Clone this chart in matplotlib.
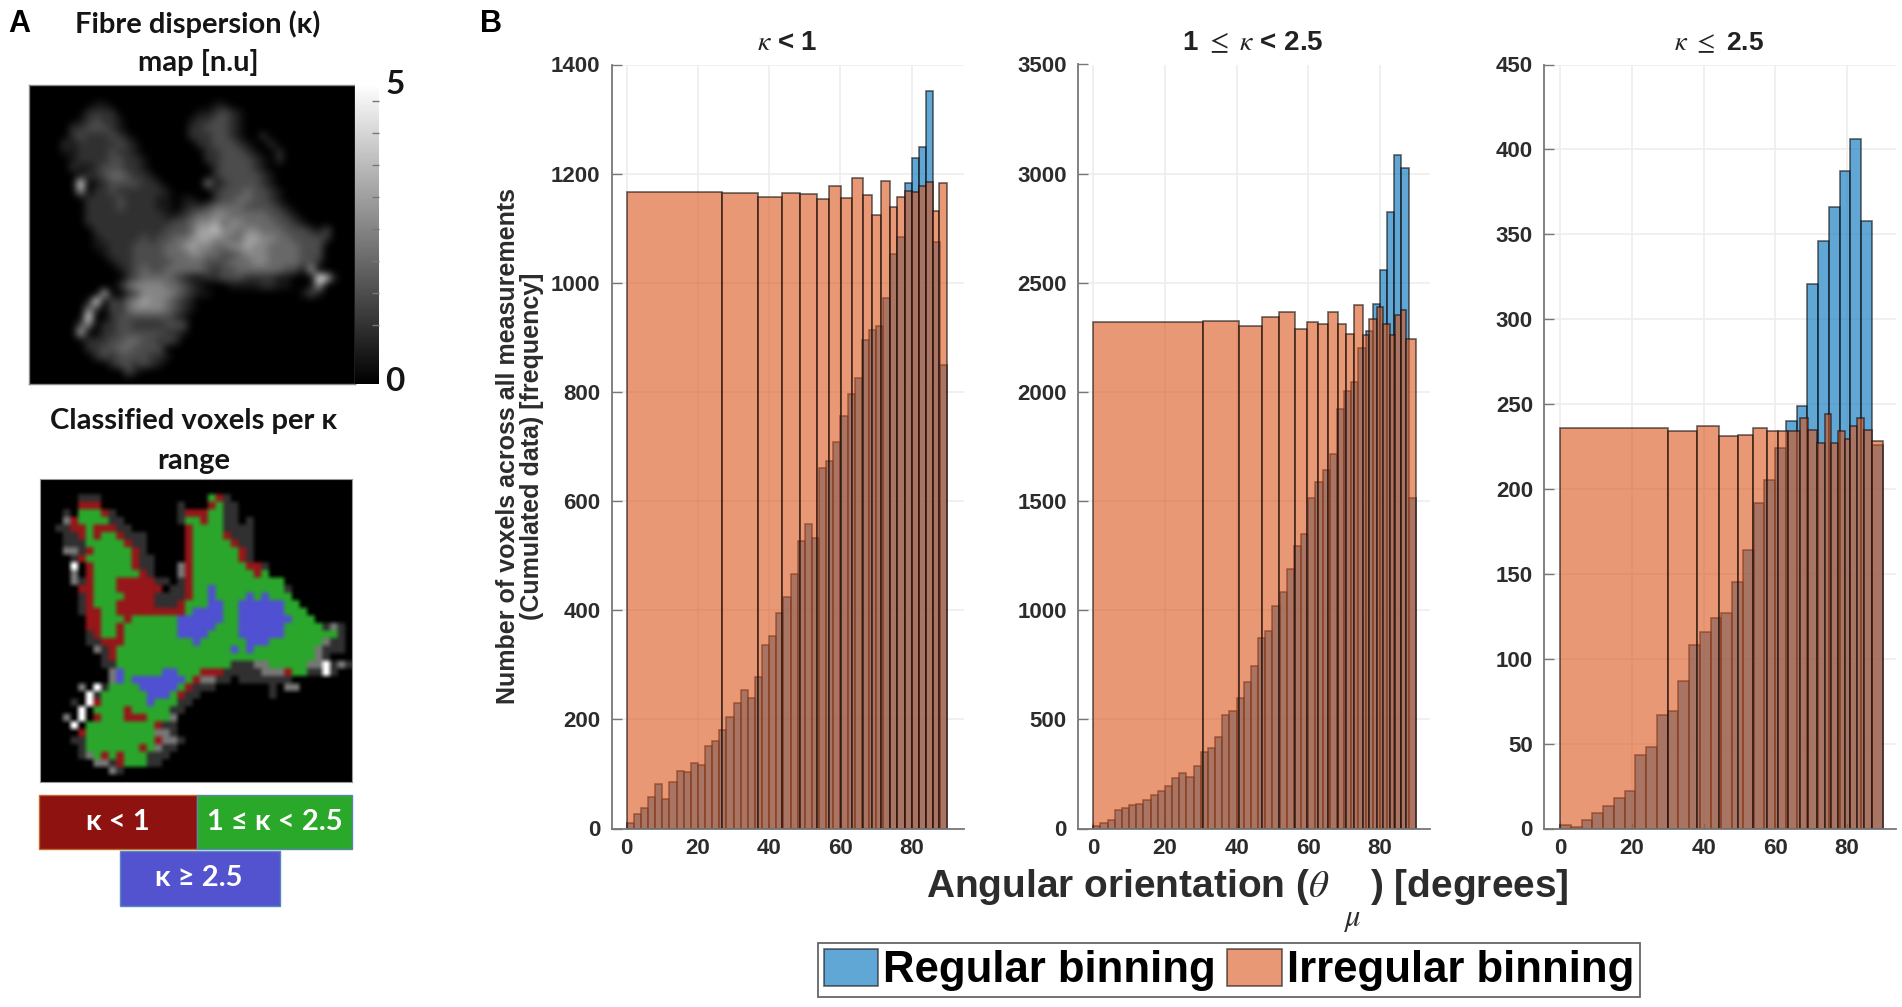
import numpy as np
import matplotlib
matplotlib.use("Agg")
import matplotlib.pyplot as plt
from matplotlib.patches import Rectangle
from matplotlib.cm import ScalarMappable
from matplotlib.colors import Normalize, PowerNorm, to_rgb

W, H = 1902, 1007

# ---- Panel B data ----
reg1 = [10,26,38,57,81,54,85,106,103,120,116,152,161,181,204,230,253,240,278,336,353,395,424,467,526,558,532,660,673,708,
        755,797,826,896,913,920,973,1052,1084,1183,1228,1249,1352,1074,849]
irr1_edges = [0,26.7,36.8,43.6,48.7,53.3,56.8,60.3,63.3,66.3,68.8,71.3,74,76,78,80,82,84,85.9,87.7,90]
irr1 = [1167,1165,1157,1165,1162,1154,1177,1155,1192,1160,1125,1187,1139,1157,1169,1167,1177,1185,1132,1182]

reg2 = [11,25,40,84,93,109,113,132,155,172,193,233,254,237,285,352,371,420,519,538,599,669,743,874,907,1021,1084,1188,1292,1348,
        1515,1587,1641,1714,1920,2005,2044,2203,2280,2405,2558,2824,3084,3026,1515]
irr2_edges = [0,30.7,40.8,47.1,51.9,56.3,59.6,62.7,65.5,68.2,70.5,72.7,75.3,77.1,79.2,81,82.7,84.3,86,87.4,90]
irr2 = [2321,2326,2304,2341,2365,2286,2320,2312,2365,2309,2265,2398,2263,2333,2390,2313,2263,2352,2375,2243]

reg3 = [2,1,5,9,13,18,22,43,48,67,69,87,108,116,124,127,145,164,192,205,224,240,249,321,346,366,387,406,358,226]
irr3_edges = [0,30.2,38.3,44.4,49.6,53.9,57.6,60.7,63.7,66.9,69.2,71.7,73.9,75.7,77.6,79.5,81,82.7,84.7,86.9,90]
irr3 = [236,234,237,231,232,236,234,234,234,242,235,227,244,227,234,229.5,237,242,235,228]

titles = [r"$\kappa$ < 1", r"1 $\leq$ $\kappa$ < 2.5", r"$\kappa$ $\leq$ 2.5"]
title_sizes = [20, 20, 19]
ymax = [1400, 3500, 450]
ystep = [200, 500, 50]
xticks = [0, 20, 40, 60, 80]
reg_widths = [2, 2, 3]
ylabel = "Number of voxels across all measurements\n(Cumulated data) [frequency]"
xlabel = r"Angular orientation ($\theta$    ) [degrees]"
legend_labels = ["Regular binning", "Irregular binning"]

# ---- Panel A data: classified voxels, read cell by cell ----
class_rows = [
"",
"",
".....ddd..............grd",
".....rrr..........d...rgdd",
"...d.gggrd........drrrggdd",
"...mrggggdd.......dggrggdd.d",
"..ddrrgrrrdd.......rggggdddd",
"...ddrgrggrddd.....rggggrddd",
"...dddgggggrdd.....rgggggrdd",
"...mmdrgggggrd.....rggggggrd",
"....drggggggrdd....rggggggrd",
"....w.rgggggrdd...mrgggggggrrd",
"....m.rggggggrd...mrggggggggrg",
"....mdrgggrrrrrdd.drgggggggggggg",
".....rrgggrrrrrr.ddrggbgggggggggd",
".....drggggrrrrddddrggbggggbgbggg",
".....drgggrrrrrdddrgggbbggbbbbbbgg",
".....drrggrrrrrrrrrgbbbbggbbbbbbggg",
"......rrgggrggggggbbbbbbggbbbbbbbggg",
"......rrggrgggggggbbbbbgggbbbbbbgggggdmd",
"......drggrgggggggbbbbggggbbbbbbgggggggd",
"......ddrrrgggggggggbggggggbbbgggggggmdd",
".......mdrgggggggggggggggbgbggggggggmddd",
"........drggggggggggggggggggggggggggmd",
"........ddgggggggggggggggdddmmgggggmmwdmd",
".........mbgggggbbgggrrrdddddmmmrggddwd",
".........mbgbbbbbbbgrmmdd.ddddddd",
".....m.wdggggbbbbbgrddd.......d.mm",
"......wdggggggbbbgrdd.........d",
"....d.wrggggggbgggdd",
".....w.ggggrgggggdd",
"...m.w.rgggrrrgggm",
"....w.gggggggggrdd",
".....rgggggggggmmd",
"....ddgggggggggrmmd",
".....dgggggggrgmdd",
".....dmgrgrgggddd",
".......mmdrgggdd",
".........md",
"",
]
class_colors = {'.': '#000000', 'd': '#303030', 'm': '#777777', 'w': '#ffffff',
                'r': '#97161a', 'g': '#2ba62c', 'b': '#5050d2'}

# Fibre dispersion map, read as brightness digits 0-9
kappa_rows = [
"",
"",
"00000000110000000000000110",
"00000002222000000000011232100",
"00000012322100000000122332100",
"00000223332100000000223332100",
"000002322232100000002223321002",
"0000212222232100000002233321002",
"00001122223221000000002233321002",
"00000122223322100000002233332102",
"00000211233322100000000233332100",
"00000012234432210000000233333210",
"00000090123333221000005123333210",
"00000060223222222100000233343321",
"00000002222322221101100233443321",
"00000002222322221101223444433332100000",
"00000002222222222112344554444433210",
"00000002222222222233455645544443321",
"00000000222222222333466755455444333213",
"00000000122222323344566554466554433332",
"00000000112223333445655445565544443330",
"00000000012223333444554433455544443330",
"00000000001223333344443334445544443320",
"00000000000123433444443233444444331600",
"000000000000234444321122333222211000971",
"00000000000245555443210001111221100160",
"000000000700235555432110000000000013100",
"0000000190324565543210",
"00000005203245555432100",
"0000000900233333332100",
"000000350223322223330",
"00000070022333333221",
"0000000222334433232",
"00000002233443333",
"000000002323333221",
"00000000002332321",
"0000000000003100",
"",
]
cbar_minor = [0.98, 1.52, 2.05, 2.58, 3.12, 3.65, 4.19, 4.72]


def px_axes(x0, y0, x1, y1):
    return fig.add_axes([x0 / W, 1 - y1 / H, (x1 - x0) / W, (y1 - y0) / H])


def ftext(x, y, s, **kw):
    kw.setdefault('ha', 'center')
    kw.setdefault('va', 'center')
    return fig.text(x / W, 1 - y / H, s, **kw)


fig = plt.figure(figsize=(W / 100, H / 100), dpi=100, facecolor='white')
plt.rcParams['mathtext.fontset'] = 'stix'
sans = 'Liberation Sans'
label_font = ['Lato', 'DejaVu Sans']

# ---- Panel A ----
ax = px_axes(29, 85, 355, 384)
kmat = np.array([[int(ch) for ch in r.ljust(41, '0')[:41]] for r in kappa_rows], dtype=float)
ax.imshow(kmat, cmap='gray', norm=PowerNorm(1.1, vmin=0, vmax=9), aspect='auto', interpolation='bicubic')
ax.set_xticks([]); ax.set_yticks([])
for s in ax.spines.values():
    s.set_color('#8a8a8a'); s.set_linewidth(1.0)

cax = px_axes(355, 84, 379, 384)
cb = fig.colorbar(ScalarMappable(Normalize(0, 5), 'gray'), cax=cax)
cb.outline.set_visible(False)
cb.set_ticks([])
cb.ax.set_yticks(cbar_minor, minor=True)
cb.ax.tick_params(which='minor', direction='in', length=5, color='#777777', width=1)
ftext(395, 85, "5", fontsize=24, fontweight='bold', family=label_font, color='#151515')
ftext(395, 382, "0", fontsize=24, fontweight='bold', family=label_font, color='#151515')

ftext(198, 24, "Fibre dispersion (κ)", fontsize=21, fontweight='bold', family=label_font, color='#151515')
ftext(198, 63, "map [n.u]", fontsize=21, fontweight='bold', family=label_font, color='#151515')
ftext(194, 421, "Classified voxels per κ", fontsize=21, fontweight='bold', family=label_font, color='#151515')
ftext(194, 461, "range", fontsize=21, fontweight='bold', family=label_font, color='#151515')

ax2 = px_axes(40, 479, 352, 782)
cmat = np.array([[to_rgb(class_colors[ch]) for ch in r.ljust(41, '.')[:41]] for r in class_rows])
ax2.imshow(cmat, aspect='auto', interpolation='hermite')
ax2.set_xticks([]); ax2.set_yticks([])
for s in ax2.spines.values():
    s.set_color('#999999'); s.set_linewidth(0.8)

box_specs = [(39, 795, 197, 849, '#8e1210', '#c06a30', "κ < 1", 118),
             (197, 795, 352, 849, '#2aa82a', '#5588aa', "1 ≤ κ < 2.5", 275),
             (120, 851, 280, 906, '#5353d0', '#5588bb', "κ ≥ 2.5", 199)]
for x0, y0, x1, y1, fc, ec, s, xc in box_specs:
    fig.add_artist(Rectangle((x0 / W, 1 - y1 / H), (x1 - x0) / W, (y1 - y0) / H,
                             transform=fig.transFigure, facecolor=fc, edgecolor=ec, linewidth=1))
    ftext(xc, (y0 + y1) / 2, s, color='white', fontsize=21, fontweight='bold', family=label_font)

ftext(19, 24, "A", fontsize=22, fontweight='bold', family=sans)
ftext(491, 24, "B", fontsize=22, fontweight='bold', family=sans)

# ---- Panel B ----
blue = (0, 0.447, 0.741, 0.62)
orange = (0.85, 0.325, 0.098, 0.6)
edge = (0.07, 0.05, 0.05, 0.62)
panels = [((611.7, 964), (-4.2, 94.7), reg1, irr1_edges, irr1),
          ((1078, 1430), (-4.27, 94.0), reg2, irr2_edges, irr2),
          ((1544, 1896), (-4.5, 93.7), reg3, irr3_edges, irr3)]
handles = None
for i, ((x0, x1), xl, reg, e, irr) in enumerate(panels):
    a = px_axes(x0, 64.5, x1, 828.5)
    a.set_axisbelow(True)
    w = reg_widths[i]
    b1 = a.bar(np.arange(len(reg)) * w, reg, width=w, align='edge', color=blue, edgecolor=edge, linewidth=1.2)
    b2 = a.bar(e[:-1], irr, width=np.diff(e), align='edge', color=orange, edgecolor=edge, linewidth=1.2)
    if handles is None:
        handles = [b1, b2]
    a.set_xlim(*xl); a.set_ylim(0, ymax[i])
    a.set_xticks(xticks)
    a.set_yticks(np.arange(0, ymax[i] + 1, ystep[i]))
    a.grid(True, color='#ededed', linewidth=1.2)
    for s in ('top', 'right'):
        a.spines[s].set_visible(False)
    for s in ('left', 'bottom'):
        a.spines[s].set_color('#777777'); a.spines[s].set_linewidth(1.3)
    a.tick_params(axis='y', direction='in', length=7, width=1, color='#777777', pad=8)
    a.tick_params(axis='x', direction='in', length=4, width=1, color='#777777', pad=7)
    for t in a.get_xticklabels() + a.get_yticklabels():
        t.set_fontfamily(sans); t.set_fontweight('bold'); t.set_fontsize(16); t.set_color('#2c2c2c')
    ftext((x0 + x1) / 2 - 1, 43, titles[i], fontsize=title_sizes[i], fontweight='bold', family=sans,
          color='#222222')

ftext(520, 446, ylabel, rotation=90, fontsize=18, fontweight='bold', family=sans,
      color='#2c2c2c', linespacing=1.02, ma='center')
ftext(1247, 887, xlabel, fontsize=28, fontweight='bold', family=sans, color='#2c2c2c')
ftext(1352, 919, r"$\mu$", fontsize=22, color='#2c2c2c')

leg = fig.legend(handles, legend_labels, ncol=2, loc='center', bbox_to_anchor=(1229 / W, 1 - 970 / H),
                 prop={'family': sans, 'weight': 'bold', 'size': 31.5}, frameon=True, fancybox=False,
                 edgecolor='#666666', framealpha=1, handlelength=1.25, handleheight=0.95,
                 handletextpad=0.12, columnspacing=0.25, borderpad=0.13, borderaxespad=0)
leg.get_frame().set_linewidth(1.3)

fig.savefig('out.png', dpi=100)
